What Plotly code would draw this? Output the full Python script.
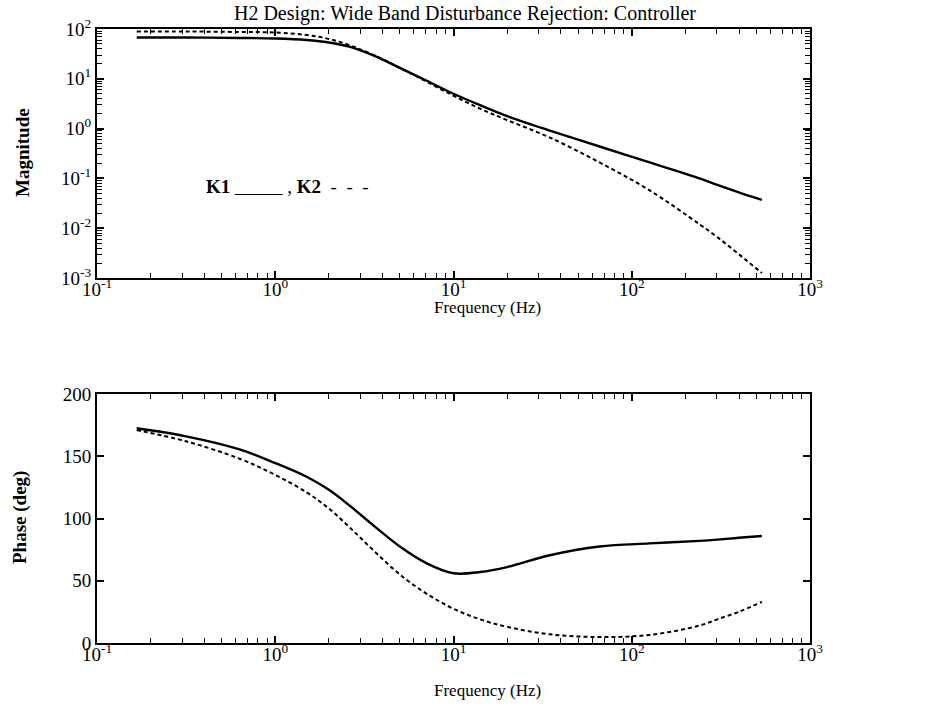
import plotly.graph_objects as go
from plotly.subplots import make_subplots

# ---- data ----
freq_hz = [0.167, 0.316, 0.631, 1.0, 1.50, 2.0, 2.63, 3.55, 5.0, 7.08, 10.0,
           14.1, 20.0, 34.7, 66.0, 126.0, 240.0, 302.0, 398.0, 537.0]

k1_mag = [67.6, 67.6, 66.1, 64.6, 60.3, 53.7, 43.7, 29.5, 16.6, 9.12, 5.01,
          2.95, 1.78, 0.912, 0.437, 0.209, 0.100, 0.0741, 0.0525, 0.0372]
k2_mag = [89.1, 89.1, 87.1, 85.1, 75.9, 63.1, 46.8, 30.2, 16.6, 8.71, 4.57,
          2.51, 1.48, 0.661, 0.209, 0.0575, 0.0120, 0.00661, 0.00302, 0.00126]

k1_phase = [172.5, 166, 155.5, 144.5, 133.5, 123, 110, 94.5, 77.5, 64, 56,
            57, 61, 70.5, 77.5, 80, 82, 83, 84.5, 86]
k2_phase = [171, 162, 148, 135, 121, 108, 92.5, 74.5, 55, 39.5, 27.5,
            19, 13, 7, 4.8, 6.5, 14, 19, 25, 33]

x_tick_vals = [0.1, 1, 10, 100, 1000]
x_tick_text = ["10<sup>-1</sup>", "10<sup>0</sup>", "10<sup>1</sup>", "10<sup>2</sup>", "10<sup>3</sup>"]
mag_tick_vals = [1e-3, 1e-2, 1e-1, 1, 10, 100]
mag_tick_text = ["10<sup>-3</sup>", "10<sup>-2</sup>", "10<sup>-1</sup>", "10<sup>0</sup>", "10<sup>1</sup>", "10<sup>2</sup>"]
phase_tick_vals = [0, 50, 100, 150, 200]

title_text = "H2 Design: Wide Band Disturbance Rejection: Controller"

# ---- figure ----
FONT = "Liberation Serif, Times New Roman, serif"
W, H = 935, 715

# plot-area box in page pixels
PL, PR, PT, PB = 97, 810, 29, 643


def minor_vals(lo, hi):
    vals = []
    for e in range(lo, hi):
        for m in range(2, 10):
            vals.append(m * 10 ** e)
    return vals


fig = make_subplots(rows=2, cols=1)

solid = dict(color="black", width=2.4)
dashed = dict(color="black", width=2.0, dash="4px,3px")

fig.add_trace(go.Scatter(x=freq_hz, y=k1_mag, mode="lines", line=solid,
                         line_shape="spline", name="K1"), row=1, col=1)
fig.add_trace(go.Scatter(x=freq_hz, y=k2_mag, mode="lines", line=dashed,
                         line_shape="spline", name="K2"), row=1, col=1)
fig.add_trace(go.Scatter(x=freq_hz, y=k1_phase, mode="lines", line=solid,
                         line_shape="spline", name="K1"), row=2, col=1)
fig.add_trace(go.Scatter(x=freq_hz, y=k2_phase, mode="lines", line=dashed,
                         line_shape="spline", name="K2"), row=2, col=1)

axis_common = dict(showline=True, linecolor="black", linewidth=2, mirror="ticks",
                   ticks="inside", tickcolor="black", tickwidth=1.5, ticklen=7,
                   showgrid=False, zeroline=False,
                   tickfont=dict(family=FONT, size=19, color="black"))

xaxis_cfg = dict(axis_common, type="log", range=[-1, 3], tickmode="array",
                 tickvals=x_tick_vals, ticktext=x_tick_text, ticklabelstandoff=-7,
                 minor=dict(ticks="inside", ticklen=5, tickcolor="black", tickwidth=1.2,
                            tickmode="array", tickvals=minor_vals(-1, 3), showgrid=False))

top_lo = (PB - 278) / (PB - PT)
bot_hi = (PB - 394) / (PB - PT)

fig.update_layout(
    xaxis=dict(xaxis_cfg, domain=[0, 1]),
    xaxis2=dict(xaxis_cfg, domain=[0, 1]),
    yaxis=dict(axis_common, type="log", range=[-3, 2], tickmode="array",
               tickvals=mag_tick_vals, ticktext=mag_tick_text, domain=[top_lo, 1],
               minor=dict(ticks="inside", ticklen=5, tickcolor="black", tickwidth=1.2,
                          tickmode="array", tickvals=minor_vals(-3, 2), showgrid=False)),
    yaxis2=dict(axis_common, range=[0, 200], tickmode="array",
                tickvals=phase_tick_vals, domain=[0, bot_hi]),
)

fig.update_layout(
    width=W, height=H,
    margin=dict(l=PL, r=W - PR, t=PT, b=H - PB),
    paper_bgcolor="white", plot_bgcolor="white",
    showlegend=False,
    font=dict(family=FONT, size=17, color="black"),
    title=dict(text=title_text, x=465 / W, xref="container", xanchor="center",
               y=1 - 13 / H, yref="container", yanchor="middle",
               font=dict(family=FONT, size=20, color="black")),
)


def px_x(px):
    return (px - PL) / (PR - PL)


def px_y(py):
    return (PB - py) / (PB - PT)


annots = [
    dict(text="Frequency (Hz)", x=px_x(487), y=px_y(307), font_size=17),
    dict(text="Frequency (Hz)", x=px_x(487), y=px_y(690), font_size=17),
    dict(text="<b>Magnitude</b>", x=px_x(22), y=px_y(153), textangle=-90, font_size=19),
    dict(text="<b>Phase (deg)</b>", x=px_x(20), y=px_y(518), textangle=-90, font_size=19),
]
for a in annots:
    fs = a.pop("font_size")
    fig.add_annotation(xref="paper", yref="paper", showarrow=False,
                       xanchor="center", yanchor="middle",
                       font=dict(family=FONT, size=fs, color="black"), **a)

fig.add_annotation(xref="paper", yref="paper", showarrow=False,
                   x=px_x(204), y=px_y(186), xanchor="left", yanchor="middle",
                   text="<b>K1</b> _____ , <b>K2</b>&nbsp;&nbsp;-&nbsp;&nbsp;-&nbsp;&nbsp;-",
                   font=dict(family=FONT, size=19, color="black"))

fig.write_html("out.html", config={"displayModeBar": False},
               post_script="document.body.style.margin='0px';")
